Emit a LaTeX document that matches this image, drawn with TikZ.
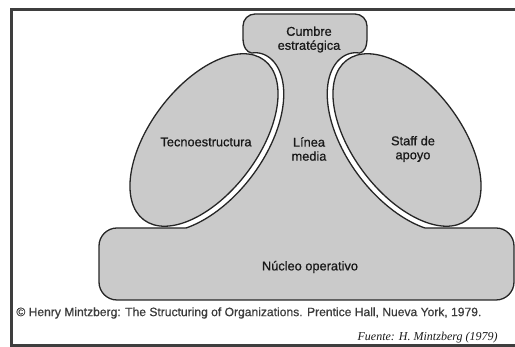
\documentclass[tikz,border=0pt]{standalone}
\usepackage{fontspec}
\setmainfont{Liberation Sans}
\newfontfamily\lblfont{Liberation Sans}[FakeBold=0.7]
\newfontfamily\serifit{Liberation Serif}
\usepackage{graphicx}
\definecolor{fillg}{RGB}{202,202,202}
\definecolor{lineg}{RGB}{38,38,38}
\definecolor{frameg}{RGB}{62,62,62}
\definecolor{txtg}{RGB}{25,25,25}
\definecolor{creditg}{RGB}{60,60,60}
\newcommand\midline{%
 ({lx(-140,6)},{ly(-140,6)})
 -- plot[domain=0:1,samples=70,variable=\vv] ({lx(-140+155*\vv, 1.5+4.5*(1-(\vv+0.00001)^15))},{ly(-140+155*\vv, 1.5+4.5*(1-(\vv+0.00001)^15))})
 .. controls (246.6,294.8) and (243,300) .. (243,309)
 -- (243,321) arc[start angle=180,end angle=90,radius=6pt]
 -- (355,333) arc[start angle=90,end angle=0,radius=6pt]
 -- (367,309)
 .. controls (367,300) and (364.4,294.8) .. (359.5,293.9)
 -- plot[domain=0:1,samples=70,variable=\ww] ({611-lx(15-155*\ww, 1.5+4.5*(1-(1.00001-\ww)^15))},{ly(15-155*\ww, 1.5+4.5*(1-(1.00001-\ww)^15))})
}
\begin{document}
\begin{tikzpicture}[x=0.5pt,y=0.5pt,
  shapeb/.style={fill=fillg, draw=lineg, line width=0.65pt},
  outl/.style={draw=lineg, line width=0.65pt},
  framel/.style={draw=frameg, line width=1.5pt},
  lbl/.style={text=txtg, font=\lblfont\fontsize{6.4}{7}\selectfont, align=center, inner sep=0pt},
  declare function={
    lx(\t,\g)=204+(100+\g)*cos(\t)*0.6018-(54+\g)*sin(\t)*0.7986;
    ly(\t,\g)=207+(100+\g)*cos(\t)*0.7986+(54+\g)*sin(\t)*0.6018;
  }]
\useasboundingbox (0,0) rectangle (515,347);
% frame
\draw[framel] (516,337.5) -- (11,337.5) -- (11,1.5) -- (516,1.5);
% operating core
\path[shapeb, rounded corners=9pt] (99,47) rectangle (514,119);
% strategic apex + middle line
\fill[fillg] \midline -- (425.07,113) -- (185.93,113) -- cycle;
\path[outl] \midline;
% technostructure and support staff
\path[shapeb, rotate around={53:(204,207)}] (204,207) ellipse (100 and 54);
\path[shapeb, rotate around={127:(407,207)}] (407,207) ellipse (100 and 54);
% labels
\node[lbl] (cumbre) at (309,307.5) {Cumbre\\estratégica};
\node[lbl] (tecno) at (206,205) {Tecnoestructura};
\node[lbl] (linea) at (309,198) {Línea\\media};
\node[lbl] (staff) at (413,198) {Staff de\\apoyo};
\node[lbl] (nucleo) at (310,80) {Núcleo operativo};
\node[inner sep=0pt, anchor=west, text=creditg] (credit) at (16,34)
  {\resizebox{232.5pt}{!}{\lblfont © Henry Mintzberg: The Structuring of Organizations. Prentice Hall, Nueva York, 1979.}};
\node[inner sep=0pt, anchor=east, text=txtg] (fuente) at (498,9)
  {\resizebox{70pt}{!}{\serifit\itshape Fuente: H. Mintzberg (1979)}};
\end{tikzpicture}
\end{document}
